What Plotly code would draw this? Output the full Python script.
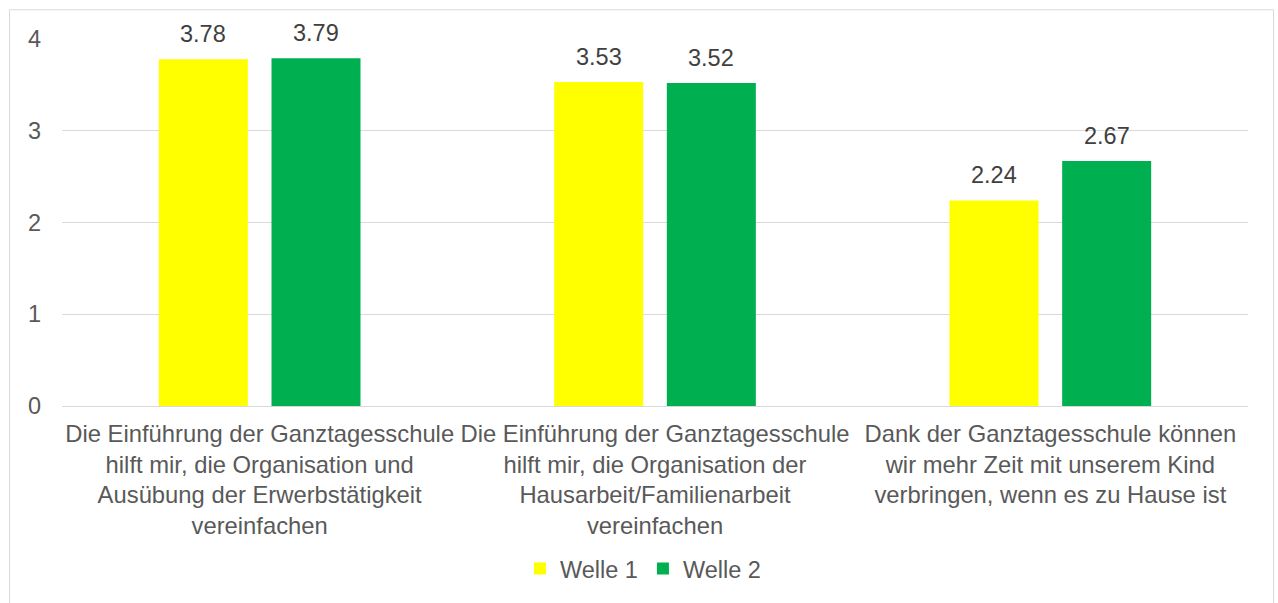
import plotly.graph_objects as go

categories = [
    "Die Einführung der Ganztagesschule<br>hilft mir, die Organisation und<br>Ausübung der Erwerbstätigkeit<br>vereinfachen",
    "Die Einführung der Ganztagesschule<br>hilft mir, die Organisation der<br>Hausarbeit/Familienarbeit<br>vereinfachen",
    "Dank der Ganztagesschule können<br>wir mehr Zeit mit unserem Kind<br>verbringen, wenn es zu Hause ist",
]
series_names = ["Welle 1", "Welle 2"]
welle1 = [3.78, 3.53, 2.24]
welle2 = [3.79, 3.52, 2.67]
y_ticks = [0, 1, 2, 3, 4]

colors = ["#FFFF00", "#00B050"]
W, H = 1278, 603
ML, MR, MT, MB = 62, 30, 39, 194
FONT = "Liberation Sans, Arial, sans-serif"
FS = 23.5
BARGAP = 0.43
GROUPGAP = 0.21

fig = go.Figure()
for name, vals, col in zip(series_names, [welle1, welle2], colors):
    fig.add_trace(go.Bar(x=categories, y=vals, name=name, marker=dict(color=col, line=dict(width=0))))

# data labels via annotations placed above each bar
plot_w = W - ML - MR
cat_px = plot_w / len(categories)
slot = cat_px * (1 - BARGAP) / 2
annotations = []
for si, vals in enumerate([welle1, welle2]):
    off = (si - 0.5) * slot
    for c, v in zip(categories, vals):
        annotations.append(dict(
            x=c, y=v, xref="x", yref="y", text=f"{v:.2f}", showarrow=False,
            xshift=off, yshift=25, yanchor="middle",
            font=dict(family=FONT, size=FS, color="#404040"),
        ))

plot_h = H - MT - MB
def px_to_paper_x(px):
    return (px - ML) / plot_w
def px_to_paper_y(py):
    return (H - MB - py) / plot_h

fig.add_shape(type="rect", xref="paper", yref="paper",
              x0=px_to_paper_x(9.5), x1=px_to_paper_x(1273.5),
              y0=px_to_paper_y(620), y1=px_to_paper_y(9.5),
              line=dict(color="#D9D9D9", width=1), fillcolor="rgba(0,0,0,0)", layer="below")

fig.update_layout(
    width=W, height=H,
    margin=dict(l=ML, r=MR, t=MT, b=MB, pad=0),
    paper_bgcolor="white", plot_bgcolor="white",
    barmode="group", bargap=BARGAP, bargroupgap=GROUPGAP,
    font=dict(family=FONT, size=FS, color="#595959"),
    showlegend=True,
    legend=dict(orientation="h", x=px_to_paper_x(643), xanchor="center",
                y=px_to_paper_y(573), yanchor="middle",
                font=dict(family=FONT, size=FS, color="#595959"),
                bgcolor="rgba(0,0,0,0)", itemclick=False),
    annotations=annotations,
    xaxis=dict(tickangle=0, showgrid=False, showline=True, linecolor="#D9D9D9", linewidth=1,
               ticks="", ticklabelstandoff=6,
               tickfont=dict(family=FONT, size=23.8, color="#595959")),
    yaxis=dict(range=[0, 4], tickvals=y_ticks, showgrid=True, gridcolor="#D9D9D9", gridwidth=1,
               zeroline=False, showline=False, ticks="", ticklabelstandoff=20,
               tickfont=dict(family=FONT, size=FS, color="#595959")),
)

fig.write_html("out.html")
